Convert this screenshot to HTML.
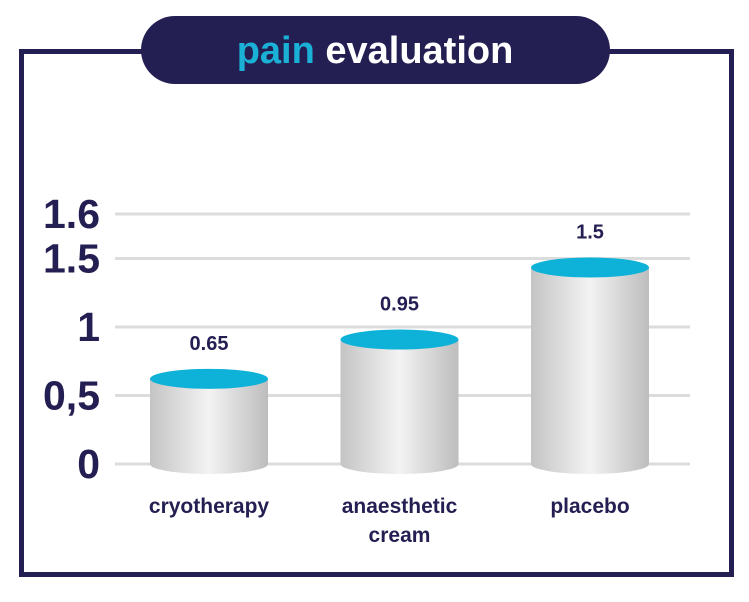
<!DOCTYPE html>
<html><head><meta charset="utf-8"><style>
html,body{margin:0;padding:0;background:#fff;}
svg{display:block;font-family:"Liberation Sans",sans-serif;}
</style></head><body>
<svg id="chart" width="749" height="602" viewBox="0 0 749 602" xmlns="http://www.w3.org/2000/svg">
<defs>
<linearGradient id="cyl" x1="0" x2="1" y1="0" y2="0">
<stop offset="0" stop-color="#c4c4c4"/><stop offset="0.5" stop-color="#f3f3f3"/><stop offset="1" stop-color="#bdbdbd"/>
</linearGradient>
</defs>
<rect x="21.5" y="51.5" width="710" height="523" fill="none" stroke="#241f52" stroke-width="5"/>
<rect x="141" y="16" width="469" height="68" rx="34" fill="#241f52"/>
<text x="375" y="63" text-anchor="middle" font-size="38" font-weight="bold" fill="#fff"><tspan fill="#1bb1d6">pain</tspan> evaluation</text>
<g id="grid"></g><g id="bars"></g><g id="labels"></g>
</svg>
<script>
const categories = ["cryotherapy", "anaesthetic cream", "placebo"];
const values = [0.65, 0.95, 1.5];
const valueLabels = ["0.65", "0.95", "1.5"];
const ticks = [0, 0.5, 1, 1.5, 1.6];
const tickLabels = ["0", "0,5", "1", "1.5", "1.6"];
const NS = "http://www.w3.org/2000/svg";
function y(v){ // piecewise: linear to 1.5, stretched top segment
  if (v <= 1.5) return 464 - v * 137;
  return 258.5 - (v - 1.5) * 445;
}
function yBar(v){ return 464 - v * 131; }
function x(i){ return 209 + i * 190.5; }
function mk(tag, attrs, parent){ const e=document.createElementNS(NS,tag); for(const k in attrs) e.setAttribute(k,attrs[k]); parent.appendChild(e); return e; }
const grid=document.getElementById('grid'), bars=document.getElementById('bars'), labels=document.getElementById('labels');
ticks.forEach((t,i)=>{
  const l=mk('line',{x1:115,x2:690,y1:y(t),y2:y(t),stroke:'#dcdcdc','stroke-width':3},grid);
  
  
  const tx=mk('text',{x:100,y:y(t)+14,'text-anchor':'end','font-size':41,'font-weight':'bold',fill:'#241f52'},grid);
  tx.textContent=tickLabels[i];
  
  
});
values.forEach((v,i)=>{
  const cx=x(i), w=118, top=yBar(v), bot=464, ry=10;
  const g=mk('g',{},bars);
  
  
  mk('path',{d:`M${cx-w/2},${top} L${cx-w/2},${bot} A${w/2},${ry} 0 0 0 ${cx+w/2},${bot} L${cx+w/2},${top} Z`,fill:'url(#cyl)'},g);
  mk('ellipse',{cx:cx,cy:top,rx:w/2,ry:ry,fill:'#0eb2d8'},g);
  const vl=mk('text',{x:cx,y:top-29,'text-anchor':'middle','font-size':20,'font-weight':'bold',fill:'#241f52'},labels);
  vl.textContent=valueLabels[i];
  
  
  const words=categories[i]==='anaesthetic cream'?['anaesthetic','cream']:[categories[i]];
  words.forEach((wd,j)=>{
    const cl=mk('text',{x:cx,y:513+j*29,'text-anchor':'middle','font-size':21,'font-weight':'bold',fill:'#241f52'},labels);
    cl.textContent=wd;
    
    
  });
});
</script>
</body></html>
